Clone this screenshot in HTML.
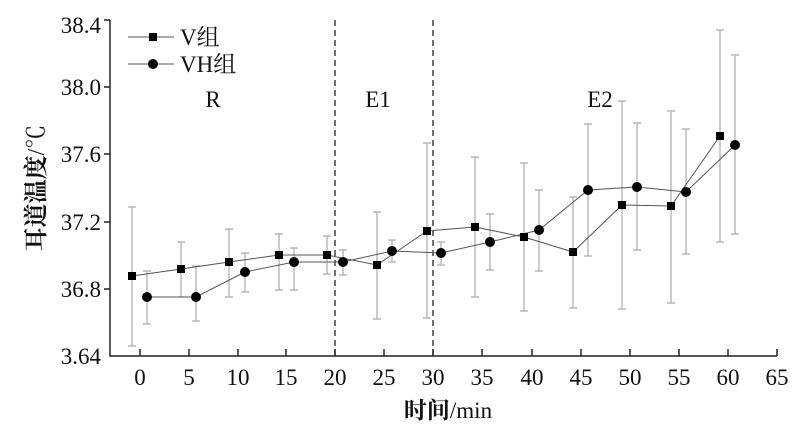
<!DOCTYPE html><html><head><style>body{margin:0;background:#fff}</style></head><body>
<svg width="800" height="430" xmlns="http://www.w3.org/2000/svg" font-family="Liberation Serif, 'Noto Serif CJK SC', serif">
<g stroke="#aaa" stroke-width="1.2">
<path d="M132 207V346M128 207h8M128 346h8 M181 242V297M177 242h8M177 297h8 M229 229V297M225 229h8M225 297h8 M279 234V290M275 234h8M275 290h8 M327 236V274M323 236h8M323 274h8 M377 212V319M373 212h8M373 319h8 M427 143V318M423 143h8M423 318h8 M475 157V297M471 157h8M471 297h8 M524 163V311M520 163h8M520 311h8 M573 197V308M569 197h8M569 308h8 M622 101V309M618 101h8M618 309h8 M671 111V303M667 111h8M667 303h8 M720 30V242M716 30h8M716 242h8"/>
<path d="M147 271V324M143 271h8M143 324h8 M196 266V321M192 266h8M192 321h8 M245 253V292M241 253h8M241 292h8 M294 248V290M290 248h8M290 290h8 M343 250V275M339 250h8M339 275h8 M392 240V262M388 240h8M388 262h8 M441 242V265M437 242h8M437 265h8 M490 214V270M486 214h8M486 270h8 M539 190V271M535 190h8M535 271h8 M588 124V256M584 124h8M584 256h8 M637 123V250M633 123h8M633 250h8 M686 129V254M682 129h8M682 254h8 M735 55V234M731 55h8M731 234h8"/>
</g>
<path d="M335 20V356M433 20V356" stroke="#222" stroke-width="1.3" stroke-dasharray="6,4"/>
<polyline fill="none" stroke="#555" stroke-width="1" points="132,276 181,269 229,262 279,255 327,255 377,265 427,231 475,227 524,237 573,252 622,205 671,206 720,136"/>
<polyline fill="none" stroke="#555" stroke-width="1" points="147,297 196,297 245,272 294,262 343,262 392,251 441,253 490,242 539,230 588,190 637,187 686,192 735,145"/>
<g fill="#000">
<path d="M128 272h8v8h-8zM177 265h8v8h-8zM225 258h8v8h-8zM275 251h8v8h-8zM323 251h8v8h-8zM373 261h8v8h-8zM423 227h8v8h-8zM471 223h8v8h-8zM520 233h8v8h-8zM569 248h8v8h-8zM618 201h8v8h-8zM667 202h8v8h-8zM716 132h8v8h-8z"/>
<circle cx="147" cy="297" r="5"/><circle cx="196" cy="297" r="5"/><circle cx="245" cy="272" r="5"/><circle cx="294" cy="262" r="5"/><circle cx="343" cy="262" r="5"/><circle cx="392" cy="251" r="5"/><circle cx="441" cy="253" r="5"/><circle cx="490" cy="242" r="5"/><circle cx="539" cy="230" r="5"/><circle cx="588" cy="190" r="5"/><circle cx="637" cy="187" r="5"/><circle cx="686" cy="192" r="5"/><circle cx="735" cy="145" r="5"/>
</g>
<g stroke="#222" stroke-width="1.5" fill="none">
<path d="M110 20V356H777"/>
<path d="M110 20h-6M110 87h-6M110 154h-6M110 222h-6M110 289h-6"/>
<path d="M140 356v-7M189 356v-7M238 356v-7M286 356v-7M335 356v-7M384 356v-7M433 356v-7M482 356v-7M532 356v-7M581 356v-7M630 356v-7M679 356v-7M728 356v-7M777 356v-7"/>
</g>
<g font-size="23" fill="#111" text-anchor="end">
<text x="101" y="33">38.4</text><text x="101" y="95">38.0</text><text x="101" y="162">37.6</text><text x="101" y="230">37.2</text><text x="101" y="297">36.8</text><text x="101" y="364">3.64</text>
</g>
<g font-size="23" fill="#111" text-anchor="middle">
<text x="140" y="385">0</text><text x="189" y="385">5</text><text x="238" y="385">10</text><text x="286" y="385">15</text><text x="335" y="385">20</text><text x="384" y="385">25</text><text x="433" y="385">30</text><text x="482" y="385">35</text><text x="532" y="385">40</text><text x="581" y="385">45</text><text x="630" y="385">50</text><text x="679" y="385">55</text><text x="728" y="385">60</text><text x="777" y="385">65</text>
<text x="213" y="107">R</text><text x="378" y="107">E1</text><text x="600" y="107">E2</text>
<text x="448" y="418"><tspan font-weight="bold">时间</tspan>/min</text>
</g>
<text transform="translate(44,188) rotate(-90)" font-size="24" fill="#111" text-anchor="middle"><tspan font-weight="bold">耳道温度</tspan>/℃</text>
<path d="M128 37h46M128 64h46" stroke="#555" stroke-width="1"/>
<rect x="149" y="33" width="8" height="8"/><circle cx="153" cy="64" r="5"/>
<text x="180" y="45" font-size="23" fill="#111">V组</text>
<text x="180" y="72" font-size="23" fill="#111">VH组</text>
</svg></body></html>
